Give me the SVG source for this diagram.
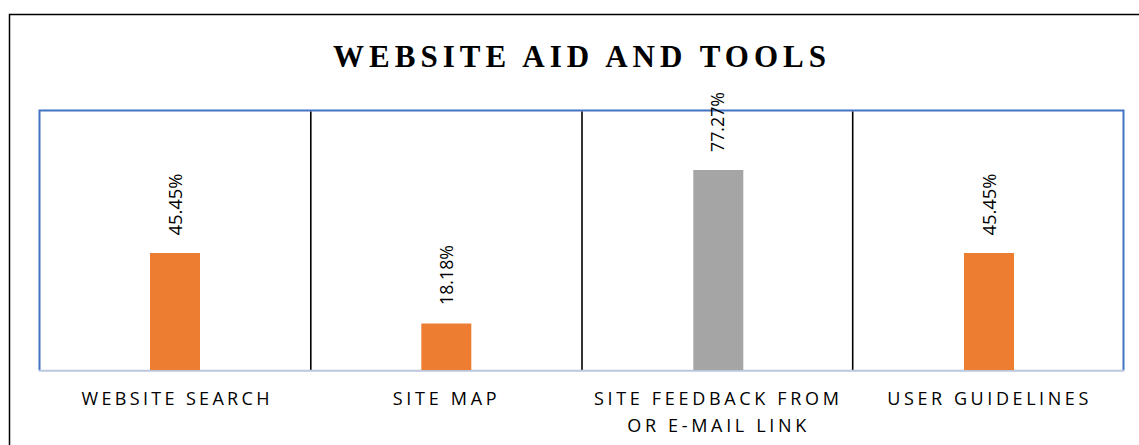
<svg xmlns="http://www.w3.org/2000/svg" width="1139" height="445" viewBox="0 0 1139 445">
<style>
.frame{fill:none;stroke:#000;stroke-width:1.5}
.plot{stroke:#4472c4;stroke-width:2;fill:none}
.axis{stroke:#bcc6dc;stroke-width:2}
.div{stroke:#000;stroke-width:1.6}
.orange{fill:#ed7d31}
.gray{fill:#a5a5a5}
.title{font-family:"Liberation Serif",serif;font-weight:bold;font-size:31px;fill:#000}
.val{font-family:"Open Sans","Noto Sans",sans-serif;font-size:18px;fill:#000}
.cat{font-family:"Open Sans","Noto Sans",sans-serif;font-size:18px;fill:#000}
</style>
<rect width="1139" height="445" fill="#fff"/>
<rect class="frame" x="9.5" y="14.5" width="1140" height="450"/>
<text class="title" x="333" y="66.5" textLength="493" lengthAdjust="spacing">WEBSITE AID AND TOOLS</text>
<g id="connectors">
<polyline class="plot" points="39.5,370.5 39.5,110.5 1123.5,110.5 1123.5,370.5"/>
<line class="div" x1="310.8" y1="111.5" x2="310.8" y2="370"/>
<line class="div" x1="582" y1="111.5" x2="582" y2="370"/>
<line class="div" x1="852.7" y1="111.5" x2="852.7" y2="370"/>
<line class="axis" x1="39" y1="370.8" x2="1124" y2="370.8"/>
</g>
<g id="bar-website-search">
<rect class="orange" x="150" y="253" width="50" height="117"/>
<text class="val" transform="translate(181.5,204.5) rotate(-90)" text-anchor="middle" textLength="62" lengthAdjust="spacingAndGlyphs">45.45%</text>
<text class="cat" x="81.5" y="405" textLength="188" lengthAdjust="spacing">WEBSITE SEARCH</text>
</g>
<g id="bar-site-map">
<rect class="orange" x="421.3" y="323.5" width="50" height="46.5"/>
<text class="val" transform="translate(453,275) rotate(-90)" text-anchor="middle" textLength="60" lengthAdjust="spacingAndGlyphs">18.18%</text>
<text class="cat" x="392.7" y="405" textLength="104" lengthAdjust="spacing">SITE MAP</text>
</g>
<g id="bar-site-feedback">
<rect class="gray" x="693.3" y="170" width="50" height="200"/>
<text class="val" transform="translate(724,122) rotate(-90)" text-anchor="middle" textLength="60" lengthAdjust="spacingAndGlyphs">77.27%</text>
<text class="cat" x="594" y="405" textLength="245" lengthAdjust="spacing">SITE FEEDBACK FROM</text>
<text class="cat" x="627.3" y="432" textLength="179" lengthAdjust="spacing">OR E-MAIL LINK</text>
</g>
<g id="bar-user-guidelines">
<rect class="orange" x="964" y="253" width="50" height="117"/>
<text class="val" transform="translate(995.5,204.5) rotate(-90)" text-anchor="middle" textLength="62" lengthAdjust="spacingAndGlyphs">45.45%</text>
<text class="cat" x="887.3" y="405" textLength="201" lengthAdjust="spacing">USER GUIDELINES</text>
</g>
</svg>
